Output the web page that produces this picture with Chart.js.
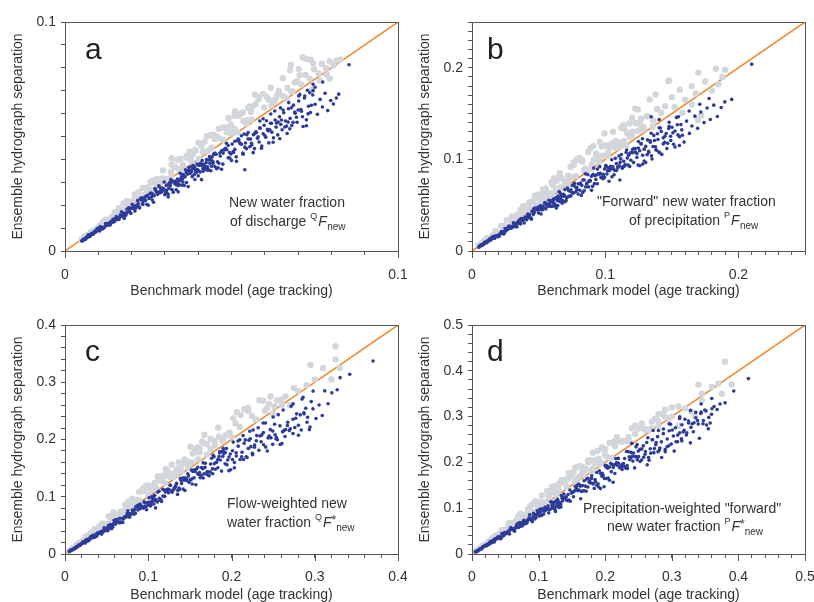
<!DOCTYPE html>
<html><head><meta charset="utf-8">
<script src="https://cdn.jsdelivr.net/npm/chart.js@4.4.1/dist/chart.umd.min.js"></script>
<style>
html,body{margin:0;padding:0;background:#fff;}
#wrap{position:relative;width:814px;height:602px;overflow:hidden;background:#fff;}
canvas{position:absolute;display:block;}
</style></head><body>
<div id="wrap">
<canvas id="ca" width="407" height="300" style="left:0;top:0;width:407px;height:300px"></canvas>
<canvas id="cb" width="407" height="300" style="left:407px;top:0;width:407px;height:300px"></canvas>
<canvas id="cc" width="407" height="302" style="left:0;top:300px;width:407px;height:302px"></canvas>
<canvas id="cd" width="407" height="302" style="left:407px;top:300px;width:407px;height:302px"></canvas>
</div>
<script>
// ---------- DATA ----------
// Panel a: New water fraction of discharge
const aMax = 0.1;
const aTickLabels = ['0', '0.1'];
const aBlue = [
[0.005,0.00435],[0.0054,0.00448],[0.0058,0.00516],[0.0062,0.00515],[0.0066,0.00601],[0.007,0.00707],[0.0074,0.00629],[0.0078,0.00725],[0.0082,0.00746],[0.0086,0.00748],
[0.009,0.00819],[0.0094,0.00921],[0.0098,0.0099],[0.0102,0.00969],[0.0106,0.01071],[0.011,0.00957],[0.0114,0.00969],[0.0118,0.01027],[0.0122,0.01196],[0.0126,0.01121],
[0.013,0.01209],[0.0134,0.01139],[0.0138,0.01283],[0.0142,0.01264],[0.0146,0.0127],[0.015,0.01305],[0.0154,0.01509],[0.0158,0.01375],[0.0162,0.01377],[0.0166,0.01577],
[0.017,0.01717],[0.0174,0.01583],[0.0178,0.01424],[0.0182,0.01547],[0.0186,0.01823],[0.019,0.01862],[0.0194,0.01727],[0.0198,0.01643],[0.0202,0.0204],[0.0206,0.01957],
[0.021,0.01743],[0.0214,0.0199],[0.0218,0.02202],[0.0222,0.01931],[0.0226,0.02283],[0.023,0.02323],[0.0234,0.02036],[0.0238,0.02261],[0.0242,0.02202],[0.0246,0.02042],
[0.025,0.02],[0.0254,0.02311],[0.0258,0.02528],[0.0262,0.02227],[0.0266,0.02128],[0.027,0.02727],[0.0274,0.02603],[0.0278,0.02474],[0.0282,0.02848],[0.0286,0.02545],
[0.029,0.02581],[0.0294,0.02675],[0.0298,0.0301],[0.0302,0.02567],[0.0306,0.02662],[0.031,0.0248],[0.0314,0.02983],[0.0318,0.03116],[0.0322,0.02673],[0.0326,0.03032],
[0.033,0.02937],[0.0334,0.02672],[0.0338,0.03143],[0.0342,0.02907],[0.0346,0.03391],[0.035,0.03255],[0.0354,0.03009],[0.0358,0.02864],[0.0362,0.03548],[0.0366,0.03477],
[0.037,0.03515],[0.0374,0.03478],[0.0378,0.03515],[0.0382,0.03247],[0.0386,0.0359],[0.039,0.0312],[0.0394,0.03428],[0.0398,0.03542],[0.0402,0.03739],[0.0406,0.03451],
[0.041,0.03731],[0.0414,0.03602],[0.0418,0.0372],[0.0422,0.03587],[0.0426,0.03536],[0.043,0.03569],[0.0434,0.04123],[0.0438,0.03504],[0.0442,0.04111],[0.0446,0.04237],
[0.045,0.04275],[0.0454,0.04222],[0.0458,0.03893],[0.0462,0.03835],[0.0466,0.04147],[0.047,0.04371],[0.0474,0.03792],[0.0478,0.04445],[0.0482,0.04483],[0.0486,0.04423],
[0.049,0.04067],[0.0494,0.04298],[0.0498,0.04233],[0.0502,0.04669],[0.0506,0.04301],[0.051,0.04437],[0.0514,0.04112],[0.0518,0.04817],[0.0522,0.04855],[0.0526,0.04681],
[0.053,0.05035],[0.0534,0.04272],[0.0538,0.05111],[0.0542,0.04715],[0.0546,0.05078],[0.055,0.04895],
[0.0052,0.00458],[0.0056,0.00526],[0.006,0.00516],[0.0064,0.00614],[0.0068,0.00598],[0.0072,0.00691],[0.0076,0.00654],[0.008,0.00768],[0.0084,0.00739],[0.0088,0.00845],
[0.0092,0.00828],[0.0096,0.00874],[0.01,0.0098],[0.0104,0.00874],[0.0108,0.00972],[0.0112,0.01019],[0.0116,0.01021],[0.012,0.01068],[0.0124,0.01128],[0.0128,0.01139],
[0.0132,0.01214],[0.0136,0.01142],[0.014,0.01232],[0.0144,0.01382],[0.0148,0.01391],[0.0152,0.01368],[0.0156,0.01466],[0.016,0.01376],[0.0164,0.0146],[0.0168,0.01529],
[0.0172,0.01514],[0.0176,0.01619],[0.018,0.01656],[0.0184,0.01619],[0.0188,0.01692],[0.0192,0.01882],[0.0196,0.01842],[0.02,0.0188],[0.0204,0.01856],[0.0208,0.01955],
[0.0212,0.01866],[0.0216,0.01944],[0.022,0.02068],[0.0224,0.01882],[0.0228,0.02234],[0.0232,0.02065],[0.0236,0.02171],[0.024,0.02352],[0.0244,0.02391],[0.0248,0.0243],
[0.0252,0.02293],[0.0256,0.02509],[0.026,0.02366],[0.0264,0.02482],[0.0268,0.02412],[0.0272,0.02666],[0.0276,0.02539],[0.028,0.02576],[0.0284,0.02783],[0.0288,0.0265],
[0.0292,0.02745],[0.0296,0.02723],[0.03,0.0264],[0.0304,0.02858],[0.0308,0.02895],[0.0312,0.02746],[0.0316,0.02844],[0.032,0.02688],[0.0324,0.03046],[0.0328,0.03018],
[0.0332,0.03054],[0.0336,0.0299],[0.034,0.02856],[0.0344,0.03062],[0.0348,0.03167],[0.0352,0.03133],[0.0356,0.0324],[0.036,0.0324],[0.0364,0.03422],[0.0368,0.03349],
[0.0372,0.03646],[0.0376,0.03384],[0.038,0.03458],[0.0384,0.0361],[0.0388,0.03337],[0.0392,0.03489],[0.0396,0.03802],[0.04,0.0352],[0.0404,0.03474],[0.0408,0.03835],
[0.0412,0.03955],[0.0416,0.03786],[0.042,0.03696],[0.0424,0.03858],[0.0428,0.03681],[0.0432,0.03974],[0.0436,0.04011],[0.044,0.0396],[0.0444,0.03907],[0.0448,0.04211],
[0.0557,0.0489],[0.0561,0.0463],[0.0566,0.0508],[0.0569,0.0447],[0.0573,0.0521],[0.0578,0.0492],[0.0583,0.0476],[0.0586,0.0536],[0.0591,0.0458],[0.0595,0.0512],
[0.0598,0.0549],[0.0603,0.0497],[0.0608,0.0531],[0.0612,0.0472],[0.0617,0.0558],[0.0621,0.0519],[0.0626,0.0494],[0.0631,0.0572],[0.0634,0.0541],[0.0639,0.0507],
[0.0644,0.0586],[0.0648,0.0553],[0.0652,0.0529],[0.0657,0.0604],[0.0662,0.0568],[0.0667,0.0513],[0.0671,0.0621],[0.0676,0.0579],[0.0681,0.0548],[0.0686,0.0637],
[0.0691,0.0601],[0.0697,0.0562],[0.0702,0.0655],[0.0708,0.0618],[0.0713,0.0586],[0.0719,0.0668],[0.0725,0.0547],[0.0731,0.0632],[0.0737,0.0605],[0.0744,0.0681],
[0.0751,0.0641],[0.0758,0.0597],[0.0766,0.0662],[0.0773,0.0629],[0.0781,0.0689],[0.0789,0.0613],[0.0798,0.0657],[0.0806,0.0642],[0.0815,0.0668],[0.0822,0.0685],
[0.0853,0.0813],[0.054,0.0355],
[0.0585,0.0568],[0.0618,0.0598],[0.0647,0.0625],[0.0672,0.0648],[0.0702,0.0677],[0.0728,0.0702],[0.0751,0.0715],[0.0774,0.0738],[0.0745,0.0728]
];
const aBlueMid = [
[0.03,0.0246],[0.0305,0.02562],[0.031,0.02356],[0.0315,0.02898],[0.032,0.03008],[0.0325,0.02568],[0.033,0.0297],[0.0335,0.02881],[0.034,0.02584],[0.0345,0.03105],
[0.035,0.0287],[0.0355,0.03337],[0.036,0.0324],[0.0365,0.02993],[0.037,0.02812],[0.0375,0.03525],[0.038,0.03686],[0.0385,0.03735],[0.039,0.03666],[0.0395,0.03555],
[0.04,0.0328],[0.0405,0.03807],[0.041,0.03116],[0.0415,0.03486],[0.042,0.03612],[0.0425,0.03995],[0.043,0.03526],[0.0435,0.03828],[0.044,0.03696],[0.0445,0.03827],
[0.045,0.0369],[0.0455,0.03595],[0.046,0.03634],[0.0465,0.04278],[0.047,0.03572],[0.0475,0.04275],[0.048,0.04416],[0.0485,0.04705],[0.049,0.04606],[0.0495,0.04059],
[0.05,0.0395],[0.0505,0.04343],[0.051,0.04794],[0.0515,0.03914],[0.052,0.04888],[0.0525,0.04725],[0.053,0.04664],[0.0535,0.04227],[0.054,0.04536],[0.0545,0.04469],
[0.055,0.0517],[0.0555,0.04551],[0.056,0.04704],[0.0565,0.04294],[0.057,0.0513],[0.0575,0.05175],[0.058,0.04988],[0.0585,0.05382],[0.059,0.04484],[0.0595,0.05772],
[0.06,0.0504],[0.0605,0.05687],[0.061,0.05246],[0.0615,0.05289],[0.062,0.0558],[0.0625,0.0475],[0.063,0.06111],[0.0635,0.05588],[0.064,0.05632],[0.0645,0.04902],
[0.065,0.0572],[0.0655,0.06157],[0.066,0.05412],[0.0665,0.05453],[0.067,0.05628],[0.0675,0.05333],[0.068,0.06256],[0.0685,0.05617],[0.069,0.06072],[0.0695,0.05838],
[0.07,0.0616],[0.0705,0.06839],[0.071,0.06106],[0.0715,0.05434],[0.072,0.06768],[0.0725,0.05728],[0.073,0.05986],[0.0735,0.06909],[0.074,0.06364],[0.0745,0.07003]
];
const aGrey = [
[0.005,0.0051],[0.0059,0.00637],[0.0068,0.00694],[0.0077,0.00832],[0.0086,0.00894],[0.0095,0.00969],[0.0104,0.01102],[0.0113,0.01243],[0.0122,0.01366],[0.0131,0.01362],
[0.014,0.01484],[0.0149,0.01699],[0.0158,0.01675],[0.0167,0.0167],[0.0176,0.02077],[0.0185,0.02035],[0.0194,0.0194],[0.0203,0.02192],[0.0212,0.02459],[0.0221,0.02564],
[0.023,0.023],[0.0239,0.02438],[0.0248,0.02778],[0.0257,0.02981],[0.0266,0.03086],[0.0275,0.03135],[0.0284,0.02954],[0.0293,0.03164],[0.0302,0.03141],[0.0311,0.0311],
[0.032,0.03776],[0.0329,0.03685],[0.0338,0.03988],[0.0347,0.04025],[0.0356,0.0356],[0.0365,0.04161],[0.0374,0.04338],[0.0383,0.04213],[0.0392,0.0439],[0.0401,0.04732],
[0.041,0.04592],[0.0419,0.04777],[0.0428,0.04366],[0.0437,0.05069],[0.0446,0.05084],[0.0455,0.05005],[0.0464,0.04918],[0.0473,0.05392],[0.0482,0.05398],[0.0491,0.05794],
[0.05,0.054],[0.0509,0.05904],[0.0518,0.0518],[0.0527,0.06008],[0.0536,0.05682],[0.0545,0.05559],[0.0554,0.06316],[0.0563,0.06306],[0.0572,0.06406],[0.0581,0.06623],
[0.0598,0.0627],[0.0612,0.0661],[0.0627,0.0652],[0.0641,0.0688],[0.0655,0.0676],[0.0668,0.0712],[0.0676,0.079],[0.0683,0.0697],[0.0697,0.0741],[0.071,0.0727],
[0.0722,0.0769],[0.0735,0.0752],[0.0745,0.082],[0.0748,0.0794],[0.0762,0.0775],[0.0771,0.0818],[0.0784,0.0798],[0.0795,0.0829],[0.0806,0.0811],[0.0816,0.0832],
[0.0826,0.0836],[0.0786,0.0771],[0.0765,0.0744],[0.0795,0.0752],[0.051,0.061],[0.055,0.0625],[0.0635,0.0673],[0.032,0.0405],[0.0705,0.0768],[0.0742,0.0705],
[0.008,0.0082],[0.014,0.0143],[0.02,0.0205],[0.026,0.0266],[0.032,0.0328],[0.038,0.039],[0.044,0.0451],[0.05,0.0513],[0.056,0.0574],[0.062,0.0636],[0.068,0.0697],
[0.015,0.01566],[0.0162,0.01869],[0.0174,0.01778],[0.0186,0.02187],[0.0198,0.02067],[0.021,0.0247],[0.0222,0.02269],[0.0234,0.02752],[0.0246,0.02568],[0.0258,0.03034],
[0.027,0.02938],[0.0282,0.0313],[0.0294,0.03522],[0.0306,0.0306],[0.0318,0.0346],[0.033,0.03663],[0.0342,0.03571],[0.0354,0.03774],[0.0366,0.04063],[0.0378,0.0403],
[0.039,0.04415],[0.0402,0.0402],[0.0414,0.04322],[0.0426,0.0501],[0.0438,0.05055],[0.045,0.04896],[0.0462,0.05331],[0.0474,0.04844],[0.0486,0.05181],[0.0498,0.05528],
[0.051,0.05324],[0.0522,0.05909],[0.0534,0.06045],[0.0546,0.057],[0.0558,0.06071],[0.057,0.06829],[0.0582,0.06716],[0.0594,0.06855],[0.0606,0.06727],[0.0618,0.07132],
[0.063,0.06577],[0.0642,0.06985],[0.0654,0.07547],[0.0666,0.0666],[0.0678,0.08122],[0.069,0.07355],[0.0702,0.07947],[0.0714,0.0845],[0.0726,0.0838],[0.0738,0.0835]
];

// Panel b: "Forward" new water fraction of precipitation
const bMax = 0.25;
const bTickLabels = ['0', '0.1', '0.2'];
const bBlue = [
[0.005,0.00415],[0.0059,0.00566],[0.0068,0.00653],[0.0077,0.0067],[0.0086,0.00697],[0.0095,0.00941],[0.0104,0.00967],[0.0113,0.00915],[0.0122,0.0111],[0.0131,0.01297],
[0.014,0.0119],[0.0149,0.01475],[0.0158,0.01564],[0.0167,0.0142],[0.0176,0.01637],[0.0185,0.01647],[0.0194,0.01571],[0.0203,0.01583],[0.0212,0.01887],[0.0221,0.02122],
[0.023,0.01909],[0.0239,0.01864],[0.0248,0.02455],[0.0257,0.0239],[0.0266,0.02314],[0.0275,0.02723],[0.0284,0.02471],[0.0293,0.02549],[0.0302,0.02688],[0.0311,0.03079],
[0.032,0.02656],[0.0329,0.02797],[0.0338,0.02636],[0.0347,0.03227],[0.0356,0.03418],[0.0365,0.02957],[0.0374,0.03403],[0.0383,0.03332],[0.0392,0.03058],[0.0401,0.03649],
[0.041,0.03403],[0.0419,0.04022],[0.0428,0.03895],[0.0437,0.03627],[0.0446,0.03479],[0.0455,0.04368],[0.0464,0.04594],[0.0473,0.04683],[0.0482,0.04627],[0.0491,0.04468],
[0.05,0.0415],[0.0509,0.04886],[0.0518,0.0404],[0.0527,0.0448],[0.0536,0.04663],[0.0545,0.05232],[0.0554,0.04598],[0.0563,0.05011],[0.0572,0.04862],[0.0581,0.05055],
[0.059,0.04897],[0.0599,0.04852],[0.0608,0.04925],[0.0617,0.05738],[0.0626,0.04883],[0.0635,0.05779],[0.0644,0.05989],[0.0653,0.06465],[0.0662,0.06355],[0.0671,0.05569],
[0.068,0.05508],[0.0689,0.05994],[0.0698,0.06701],[0.0707,0.05515],[0.0716,0.06874],[0.0725,0.06598],[0.0734,0.06533],[0.0743,0.06018],[0.0752,0.06392],[0.0761,0.06316],
[0.077,0.07392],[0.0779,0.06466],[0.0788,0.06698],[0.0797,0.06217],[0.0806,0.07335],[0.0815,0.07417],[0.0824,0.07169],[0.0833,0.07747],[0.0842,0.06568],[0.0851,0.08425],
[0.086,0.0731],[0.0869,0.08342],[0.0878,0.07639],[0.0887,0.07717],[0.0896,0.08154],[0.0905,0.07059],[0.0914,0.09049],[0.0923,0.08215],[0.0932,0.08295],[0.0941,0.0734],
[0.095,0.08455],[0.0959,0.09206],[0.0968,0.08034],[0.0977,0.08109],[0.0986,0.08381],[0.0995,0.0806],[0.1004,0.09337],[0.1013,0.08408],[0.1022,0.09096],[0.1031,0.08764],
[0.104,0.09256],[0.1049,0.09966],[0.1058,0.09205],[0.1067,0.08323],[0.1076,0.10114],[0.1085,0.08789],[0.1094,0.0908],[0.1103,0.10368],[0.1112,0.09674],[0.1121,0.10537],
[0.113,0.09153],[0.1139,0.09226],[0.1148,0.09299],[0.1157,0.1076],[0.1166,0.10144],[0.1175,0.10458],[0.1184,0.09235],[0.1193,0.09902],
[0.0055,0.00473],[0.0064,0.00589],[0.0073,0.00613],[0.0082,0.00771],[0.0091,0.00783],[0.01,0.0094],[0.0109,0.00916],[0.0118,0.01109],[0.0127,0.01092],[0.0136,0.01278],
[0.0145,0.01276],[0.0154,0.01371],[0.0163,0.01565],[0.0172,0.0141],[0.0181,0.01593],[0.019,0.01691],[0.0199,0.01711],[0.0208,0.0181],[0.0217,0.01931],[0.0226,0.01966],
[0.0235,0.02115],[0.0244,0.02001],[0.0253,0.02176],[0.0262,0.02463],[0.0271,0.02493],[0.028,0.02464],[0.0289,0.02659],[0.0298,0.02503],[0.0307,0.02671],[0.0316,0.02812],
[0.0325,0.02795],[0.0334,0.03006],[0.0343,0.03087],[0.0352,0.03027],[0.0361,0.03177],[0.037,0.03552],[0.0379,0.03487],[0.0388,0.0357],[0.0397,0.03533],[0.0406,0.03735],
[0.0415,0.03569],[0.0424,0.03731],[0.0433,0.03984],[0.0442,0.03624],[0.0451,0.0433],[0.046,0.04002],[0.0469,0.04221],[0.0478,0.04589],[0.0487,0.04675],[0.0496,0.04762],
[0.0505,0.04495],[0.0514,0.04934],[0.0523,0.04655],[0.0532,0.04894],[0.0541,0.04761],[0.055,0.0528],[0.0559,0.05031],[0.0568,0.05112],[0.0577,0.05539],[0.0586,0.05274],
[0.0595,0.05474],[0.0604,0.05436],[0.0613,0.05272],[0.0622,0.05722],[0.0631,0.05805],[0.064,0.05504],[0.0649,0.05711],[0.0658,0.05396],[0.0667,0.06136],[0.0676,0.06084],
[0.0685,0.06165],[0.0694,0.06038],
[0.1205,0.1072],[0.1213,0.0965],[0.1226,0.1118],[0.1238,0.1022],[0.1247,0.0938],[0.1259,0.1095],[0.1268,0.1171],[0.1281,0.1046],[0.1293,0.0982],[0.1304,0.1142],
[0.1318,0.1213],[0.1327,0.1075],[0.1339,0.1188],[0.1352,0.1004],[0.1365,0.1262],[0.1377,0.1138],[0.1385,0.11],[0.1396,0.1217],[0.1409,0.1072],[0.1421,0.1305],
[0.1436,0.1169],[0.1448,0.1252],[0.1463,0.1118],[0.1477,0.1338],[0.1492,0.1206],[0.1508,0.1291],[0.1524,0.1135],[0.1541,0.1379],[0.1558,0.1247],[0.1575,0.1322],
[0.1592,0.1189],[0.1611,0.1418],[0.1632,0.1284],[0.1651,0.1365],[0.1673,0.1472],[0.1694,0.1339],[0.1718,0.1518],[0.1742,0.1402],[0.1765,0.1561],[0.1789,0.1435],
[0.1815,0.1592],[0.1842,0.1468],[0.1871,0.1566],[0.1898,0.1628],[0.195,0.1655],[0.21,0.204],[0.111,0.0775],
[0.128,0.1225],[0.1345,0.1285],[0.1405,0.1345],[0.148,0.1405],[0.155,0.1465],[0.163,0.1528],[0.171,0.1602],[0.178,0.1665],[0.1345,0.1465],[0.1405,0.1435],[0.125,0.1195]
];
const bBlueMid = [
[0.06,0.0552],[0.0611,0.05621],[0.0622,0.051],[0.0633,0.04684],[0.0644,0.04959],[0.0655,0.05633],[0.0666,0.05861],[0.0677,0.05213],[0.0688,0.06192],[0.0699,0.05382],
[0.071,0.05822],[0.0721,0.05912],[0.0732,0.06002],[0.0743,0.06687],[0.0754,0.07163],[0.0765,0.07268],[0.0776,0.06984],[0.0787,0.06926],[0.0798,0.07342],[0.0809,0.06634],
[0.082,0.06068],[0.0831,0.06399],[0.0842,0.07746],[0.0853,0.06995],[0.0864,0.0743],[0.0875,0.07],[0.0886,0.0762],[0.0897,0.06638],[0.0908,0.08354],[0.0919,0.07352],
[0.093,0.07812],[0.0941,0.0894],[0.0952,0.08378],[0.0963,0.08474],[0.0974,0.07987],[0.0985,0.0788],[0.0996,0.08964],[0.1007,0.09264],[0.1018,0.08755],[0.1029,0.07615],
[0.104,0.08944],[0.1051,0.08093],[0.1062,0.08921],[0.1073,0.08799],[0.1084,0.09539],[0.1095,0.09198],[0.1106,0.0929],[0.1117,0.10053],[0.1128,0.09024],[0.1139,0.09795],
[0.115,0.0943],[0.1161,0.1103],[0.1172,0.09376],[0.1183,0.10647],[0.1194,0.10746],[0.1205,0.11086],[0.1216,0.11187],[0.1227,0.10798],[0.1238,0.10647],[0.1249,0.11241],
[0.126,0.09324],[0.1271,0.11693],[0.1282,0.09487],[0.1293,0.1112],[0.1304,0.0965],[0.1315,0.1052],[0.1326,0.10873],[0.1337,0.12033],[0.1348,0.1038],[0.1359,0.11416],
[0.137,0.12056],[0.1381,0.11048],[0.1392,0.12806],[0.1403,0.10803],[0.1414,0.13433],[0.1425,0.10545],[0.1436,0.1235],[0.1447,0.11865],[0.1458,0.1283],[0.1469,0.11752],
[0.148,0.13616],[0.1491,0.12524],[0.1502,0.13518],[0.1513,0.1165],[0.1524,0.13106],[0.1535,0.14583],[0.1546,0.12677],[0.1557,0.11522],[0.1568,0.13798],[0.1579,0.12632]
];
const bGrey = [
[0.005,0.00615],[0.0071,0.00852],[0.0092,0.01104],[0.0113,0.0139],[0.0134,0.01407],[0.0155,0.01721],[0.0176,0.02165],[0.0197,0.02009],[0.0218,0.02747],[0.0239,0.02725],
[0.026,0.03354],[0.0281,0.03372],[0.0302,0.03715],[0.0323,0.03585],[0.0344,0.04025],[0.0365,0.0449],[0.0386,0.04864],[0.0407,0.04274],[0.0428,0.05264],[0.0449,0.05388],
[0.047,0.06063],[0.0491,0.05892],[0.0512,0.0599],[0.0533,0.06716],[0.0554,0.06814],[0.0575,0.05865],[0.0596,0.0751],[0.0617,0.07959],[0.0638,0.07656],[0.0659,0.08501],
[0.068,0.06936],[0.0701,0.07571],[0.0722,0.08231],[0.0743,0.08024],[0.0764,0.09397],[0.0785,0.09891],[0.0806,0.10156],[0.0827,0.09924],[0.0848,0.08904],[0.0869,0.08864],
[0.089,0.11214],[0.0911,0.11479],[0.0932,0.10625],[0.0953,0.09721],[0.0974,0.11396],[0.0995,0.12836],[0.1016,0.10363],[0.1037,0.11511],[0.1058,0.13013],[0.1079,0.11977],
[0.11,0.1188],[0.1121,0.13452],[0.1142,0.13361],[0.1163,0.12909],[0.1184,0.12432],[0.1205,0.13014],[0.1226,0.13976],[0.1247,0.13094],[0.1268,0.14455],[0.1289,0.13535],
[0.132,0.147],[0.136,0.1425],[0.142,0.151],[0.145,0.158],[0.148,0.186],[0.1475,0.1856],[0.15,0.168],[0.152,0.157],[0.156,0.176],[0.16,0.165],
[0.165,0.18],[0.168,0.172],[0.17,0.195],[0.1695,0.143],[0.175,0.185],[0.18,0.175],[0.183,0.199],[0.188,0.19],[0.19,0.198],[0.185,0.182],
[0.165,0.16],[0.172,0.148],[0.158,0.151],[0.139,0.155],[0.126,0.14],
[0.006,0.0062],[0.012,0.0125],[0.018,0.0188],[0.024,0.025],[0.03,0.0315],[0.036,0.0378],[0.042,0.0442],[0.048,0.0505],[0.054,0.0568],[0.06,0.063],
[0.066,0.0695],[0.072,0.0758],[0.078,0.082],[0.084,0.088],[0.09,0.0945],[0.096,0.101],[0.102,0.107],[0.108,0.1135],[0.114,0.12],[0.12,0.126],
[0.03,0.0381],[0.0322,0.03606],[0.0344,0.03853],[0.0366,0.04209],[0.0388,0.04928],[0.041,0.04346],[0.0432,0.04709],[0.0454,0.0454],[0.0476,0.0576],[0.0498,0.06175],
[0.052,0.05356],[0.0542,0.06396],[0.0564,0.06317],[0.0586,0.0586],[0.0608,0.07174],[0.063,0.06678],[0.0652,0.08085],[0.0674,0.07953],[0.0696,0.07378],[0.0718,0.0718],
[0.074,0.09176],[0.0762,0.09677],[0.0784,0.09957],[0.0806,0.09994],[0.0828,0.0977],[0.085,0.0901],[0.0872,0.10813],[0.0894,0.0894],[0.0916,0.09984],[0.0938,0.10506],
[0.096,0.11904],[0.0982,0.10409],[0.1004,0.11546],[0.1026,0.11183],[0.1048,0.11738],[0.107,0.11342],[0.1092,0.11248],[0.1114,0.11474],[0.1136,0.13746],[0.1158,0.1158],
[0.118,0.13924],[0.1202,0.14544],[0.1224,0.15545],[0.1246,0.1545],[0.1268,0.13441],[0.129,0.13287],[0.1312,0.14694],[0.1334,0.16542],[0.1356,0.1356],[0.1378,0.17087]
];

// Panel c: Flow-weighted new water fraction
const cMax = 0.4;
const cTickLabels = ['0', '0.1', '0.2', '0.3', '0.4'];
const cBlue = [
[0.005,0.0045],[0.0065,0.0063],[0.008,0.00672],[0.0095,0.00798],[0.011,0.00946],[0.0125,0.01025],[0.014,0.01316],[0.0155,0.01302],[0.017,0.0153],[0.0185,0.01591],
[0.02,0.018],[0.0215,0.0215],[0.023,0.02024],[0.0245,0.01936],[0.026,0.02522],[0.0275,0.02255],[0.029,0.02436],[0.0305,0.02959],[0.032,0.02816],[0.0335,0.0325],
[0.035,0.0287],[0.0365,0.02993],[0.038,0.03116],[0.0395,0.03713],[0.041,0.03608],[0.0425,0.03825],[0.044,0.03476],[0.0455,0.03822],[0.047,0.04559],[0.0485,0.04268],
[0.05,0.041],[0.0515,0.04069],[0.053,0.04452],[0.0545,0.05123],[0.056,0.04424],[0.0575,0.04715],[0.059,0.059],[0.0605,0.05203],[0.062,0.06014],[0.0635,0.05715],
[0.065,0.0546],[0.0665,0.05453],[0.068,0.05576],[0.0695,0.05491],[0.071,0.0639],[0.0725,0.06525],[0.074,0.0666],[0.0755,0.0755],[0.077,0.07084],[0.0785,0.06908],
[0.08,0.0704],[0.0815,0.07498],[0.083,0.06972],[0.0845,0.07098],[0.086,0.08256],[0.0875,0.077],[0.089,0.08633],[0.0905,0.08688],[0.092,0.0828],[0.0935,0.08228],
[0.095,0.0912],[0.0965,0.08299],[0.098,0.07742],[0.0995,0.08557],[0.101,0.09797],[0.1025,0.08405],[0.104,0.09984],[0.1055,0.09706],[0.107,0.09416],[0.1085,0.09548],
[0.11,0.0924],[0.1115,0.10816],[0.113,0.10961],[0.1145,0.09389],[0.116,0.09164],[0.1175,0.1128],[0.119,0.11186],[0.1205,0.10845],[0.122,0.11224],[0.1235,0.11362],
[0.125,0.1125],[0.1265,0.12018],[0.128,0.11008],[0.1295,0.11137],[0.131,0.11528],[0.1325,0.1166],[0.134,0.12328],[0.1355,0.11111],[0.137,0.11508],[0.1385,0.13158],
[0.14,0.1232],[0.1415,0.13301],[0.143,0.1287],[0.1445,0.13294],[0.146,0.12848],[0.1475,0.14013],[0.149,0.12516],[0.1505,0.12943],[0.152,0.13072],[0.1535,0.14429],
[0.155,0.14725],[0.1565,0.14398],[0.158,0.14852],[0.1595,0.15153],[0.161,0.13846],[0.1625,0.13325],[0.164,0.15088],[0.1655,0.14895],[0.167,0.14028],[0.1685,0.15839],
[0.17,0.1394],[0.1715,0.14406],[0.173,0.13667],[0.1745,0.14309],[0.176,0.1672],[0.1775,0.14023],[0.179,0.17005],[0.1805,0.14801],[0.182,0.16016],[0.1835,0.16515],
[0.185,0.1702],[0.1865,0.16412],[0.188,0.1786],[0.1895,0.17055],[0.191,0.17572],[0.1925,0.1771],[0.194,0.1843],[0.1955,0.16422],[0.197,0.16942],[0.1985,0.17468],
[0.0058,0.00493],[0.0073,0.00679],[0.0088,0.00774],[0.0103,0.00896],[0.0118,0.00979],[0.0133,0.01197],[0.0148,0.01228],[0.0163,0.01549],[0.0178,0.01477],[0.0193,0.01795],
[0.0208,0.01872],[0.0223,0.02029],[0.0238,0.02261],[0.0253,0.02404],[0.0268,0.02492],[0.0283,0.02632],[0.0298,0.02593],[0.0313,0.03036],[0.0328,0.02886],[0.0343,0.03087],
[0.0358,0.03115],[0.0373,0.03469],[0.0388,0.03453],[0.0403,0.03587],[0.0418,0.03804],[0.0433,0.0381],[0.0448,0.03987],[0.0463,0.03936],[0.0478,0.04302],[0.0493,0.04092],
[0.0508,0.04572],[0.0523,0.04969],[0.0538,0.05003],[0.0553,0.04811],[0.0568,0.04998],[0.0583,0.05305],[0.0598,0.05442],[0.0613,0.05946],[0.0628,0.05589],[0.0643,0.05594],
[0.0658,0.06251],[0.0673,0.05586],[0.0688,0.06192],[0.0703,0.06116],[0.0718,0.06462],[0.0733,0.0645],[0.0748,0.07106],[0.0763,0.06486],[0.0778,0.06457],[0.0793,0.06978],
[0.0808,0.07676],[0.0823,0.07489],[0.0838,0.07793],[0.0853,0.08274],[0.0868,0.0842],[0.0883,0.08212],[0.0898,0.07902],[0.0913,0.08034],[0.0928,0.08166],[0.0943,0.08016],
[0.0958,0.08909],[0.0973,0.08271],[0.0988,0.08991],[0.1003,0.09027],[0.1018,0.08653],[0.1033,0.08574],[0.1048,0.09222],[0.1063,0.10099],[0.1078,0.10241],[0.1093,0.09291],
[0.2012,0.1803],[0.2035,0.1598],[0.2058,0.1712],[0.2081,0.1884],[0.2103,0.1651],[0.2127,0.1776],[0.2152,0.1935],[0.2176,0.1697],[0.2201,0.1842],[0.2226,0.2012],
[0.2251,0.1758],[0.2277,0.1905],[0.2303,0.2068],[0.2329,0.1812],[0.2356,0.1962],[0.2383,0.2121],[0.2411,0.1867],[0.2439,0.2027],[0.2466,0.2172],[0.2495,0.1915],
[0.2524,0.2081],[0.2552,0.1995],[0.2582,0.2238],[0.2613,0.2134],[0.2643,0.2052],[0.2675,0.2302],[0.2706,0.2186],[0.2738,0.2105],[0.2771,0.2371],[0.2804,0.2249],
[0.2838,0.2165],[0.2872,0.2448],[0.2907,0.2302],[0.2943,0.2218],[0.2979,0.2535],[0.3015,0.2368],[0.3052,0.2602],[0.309,0.2418],[0.312,0.285],[0.316,0.2625],
[0.3205,0.2815],[0.327,0.287],[0.3305,0.308],[0.342,0.314],[0.37,0.337],[0.2535,0.2012],
[0.152,0.1465],[0.166,0.1592],[0.178,0.1725],[0.19,0.1848],[0.202,0.1955],[0.214,0.2068],[0.226,0.2165],[0.238,0.2288],[0.25,0.2392],[0.262,0.2515],
[0.274,0.2622],[0.286,0.2738],[0.298,0.2845],[0.186,0.1788],[0.222,0.2145]
];
const cBlueMid = [
[0.1,0.09],[0.1022,0.08994],[0.1044,0.09187],[0.1066,0.08741],[0.1088,0.08051],[0.111,0.09102],[0.1132,0.09735],[0.1154,0.09463],[0.1176,0.10114],[0.1198,0.10063],
[0.122,0.1098],[0.1242,0.10681],[0.1264,0.12008],[0.1286,0.10802],[0.1308,0.11249],[0.133,0.1197],[0.1352,0.1041],[0.1374,0.11267],[0.1396,0.12843],[0.1418,0.11344],
[0.144,0.11088],[0.1462,0.13158],[0.1484,0.13653],[0.1506,0.12952],[0.1528,0.12224],[0.155,0.1333],[0.1572,0.12104],[0.1594,0.14027],[0.1616,0.14221],[0.1638,0.13759],
[0.166,0.1328],[0.1682,0.15138],[0.1704,0.14314],[0.1726,0.13808],[0.1748,0.15732],[0.177,0.14868],[0.1792,0.1577],[0.1814,0.15963],[0.1836,0.15055],[0.1858,0.17651],
[0.188,0.14476],[0.1902,0.18069],[0.1924,0.15777],[0.1946,0.15568],[0.1968,0.14563],[0.199,0.14726],[0.2012,0.16498],[0.2034,0.15052],[0.2056,0.17682],[0.2078,0.19741],
[0.21,0.1995],[0.2122,0.16976],[0.2144,0.16509],[0.2166,0.19927],[0.2188,0.16848],[0.221,0.1989],[0.2232,0.18749],[0.2254,0.17356],[0.2276,0.18663],[0.2298,0.19763],
[0.232,0.2204],[0.2342,0.2061],[0.2364,0.20803],[0.2386,0.19088],[0.2408,0.22876],[0.243,0.17982],[0.2452,0.20597],[0.2474,0.20287],[0.2496,0.21466],[0.2518,0.22662],
[0.254,0.2032],[0.2562,0.24339],[0.2584,0.19122],[0.2606,0.19284],[0.2628,0.2155],[0.265,0.2173],[0.2672,0.22445],[0.2694,0.21552],[0.2716,0.25802],[0.2738,0.23547],
[0.276,0.2208],[0.2782,0.24482],[0.2804,0.2075],[0.2826,0.24304],[0.2848,0.27056],[0.287,0.24682],[0.2892,0.2545],[0.2914,0.23895],[0.2936,0.21726],[0.2958,0.26622]
];
const cGrey = [
[0.005,0.0056],[0.0078,0.00854],[0.0106,0.01081],[0.0134,0.01568],[0.0162,0.01814],[0.019,0.0208],[0.0218,0.02333],[0.0246,0.03063],[0.0274,0.03206],[0.0302,0.03533],
[0.033,0.03779],[0.0358,0.04368],[0.0386,0.04323],[0.0414,0.04844],[0.0442,0.05061],[0.047,0.05264],[0.0498,0.05204],[0.0526,0.06549],[0.0554,0.05651],[0.0582,0.07246],
[0.061,0.06375],[0.0638,0.06508],[0.0666,0.07126],[0.0694,0.07252],[0.0722,0.08628],[0.075,0.08025],[0.0778,0.08908],[0.0806,0.0943],[0.0834,0.08715],[0.0862,0.09439],
[0.089,0.10858],[0.0918,0.1097],[0.0946,0.11068],[0.0974,0.11883],[0.1002,0.11974],[0.103,0.11279],[0.1058,0.11585],[0.1086,0.1162],[0.1114,0.13591],[0.1142,0.1279],
[0.117,0.13689],[0.1198,0.13717],[0.1226,0.14651],[0.1254,0.14045],[0.1282,0.1564],[0.131,0.14017],[0.1338,0.13982],[0.1366,0.15982],[0.1394,0.15613],[0.1422,0.15926],
[0.145,0.15878],[0.1478,0.16184],[0.1506,0.1875],[0.1534,0.17564],[0.1562,0.18275],[0.159,0.18603],[0.1618,0.18526],[0.1646,0.1967],[0.1674,0.20841],[0.1702,0.1736],
[0.175,0.1835],[0.18,0.19],[0.185,0.205],[0.19,0.2],[0.2,0.205],[0.205,0.228],[0.21,0.222],[0.22,0.25],[0.23,0.235],[0.24,0.25],
[0.245,0.262],[0.25,0.245],[0.255,0.268],[0.26,0.27],[0.265,0.275],[0.27,0.26],[0.275,0.29],[0.28,0.285],[0.29,0.295],[0.295,0.33],
[0.3,0.305],[0.31,0.325],[0.32,0.305],[0.325,0.363],[0.325,0.34],[0.33,0.325],
[0.01,0.0103],[0.02,0.0206],[0.03,0.031],[0.04,0.0412],[0.05,0.0516],[0.06,0.062],[0.07,0.0723],[0.08,0.0826],[0.09,0.093],[0.1,0.1032],
[0.11,0.1136],[0.12,0.124],[0.13,0.1343],[0.14,0.1446],[0.16,0.1652],
[0.04,0.043],[0.0445,0.0534],[0.049,0.05023],[0.0535,0.06554],[0.058,0.0667],[0.0625,0.06875],[0.067,0.0737],[0.0715,0.07508],[0.076,0.0912],[0.0805,0.0966],
[0.085,0.08713],[0.0895,0.0895],[0.094,0.11515],[0.0985,0.11574],[0.103,0.11588],[0.1075,0.12363],[0.112,0.1288],[0.1165,0.13106],[0.121,0.14823],[0.1255,0.13491],
[0.13,0.13975],[0.1345,0.14795],[0.139,0.1529],[0.1435,0.16503],[0.148,0.1517],[0.1525,0.16013],[0.157,0.178],[0.1615,0.17765],[0.166,0.19505],[0.1705,0.19181],
[0.175,0.20125],[0.1795,0.19745],[0.184,0.2208],[0.1885,0.19793],[0.193,0.20748],[0.1975,0.21231],[0.202,0.23735],[0.2065,0.2478],[0.211,0.24265],[0.2155,0.25321],
[0.22,0.255],[0.2245,0.24134],[0.229,0.23473],[0.2335,0.26853],[0.238,0.26775],[0.2425,0.25463],[0.247,0.275],[0.2515,0.25779],[0.256,0.2688],[0.2605,0.2605]
];

// Panel d: Precipitation-weighted "forward" new water fraction
const dMax = 0.5;
const dTickLabels = ['0', '0.1', '0.2', '0.3', '0.4', '0.5'];
const dBlue = [
[0.005,0.0048],[0.0069,0.00573],[0.0088,0.00713],[0.0107,0.00931],[0.0126,0.0121],[0.0145,0.01131],[0.0164,0.01574],[0.0183,0.01665],[0.0202,0.01798],[0.0221,0.0179],
[0.024,0.0204],[0.0259,0.0215],[0.0278,0.02669],[0.0297,0.02465],[0.0316,0.02686],[0.0335,0.02613],[0.0354,0.03221],[0.0373,0.03394],[0.0392,0.0341],[0.0411,0.03822],
[0.043,0.03354],[0.0449,0.04445],[0.0468,0.03978],[0.0487,0.04675],[0.0506,0.04402],[0.0525,0.04568],[0.0544,0.0495],[0.0563,0.04391],[0.0582,0.05762],[0.0601,0.05349],
[0.062,0.05518],[0.0639,0.04984],[0.0658,0.05856],[0.0677,0.06499],[0.0696,0.05777],[0.0715,0.05935],[0.0734,0.06239],[0.0753,0.06099],[0.0772,0.0718],[0.0791,0.06565],
[0.081,0.07209],[0.0829,0.07047],[0.0848,0.07547],[0.0867,0.08583],[0.0886,0.07708],[0.0905,0.07059],[0.0924,0.0887],[0.0943,0.07638],[0.0962,0.07985],[0.0981,0.09418],
[0.1,0.087],[0.1019,0.09782],[0.1038,0.08408],[0.1057,0.08562],[0.1076,0.08716],[0.1095,0.10184],[0.1114,0.09692],[0.1133,0.10084],[0.1152,0.08986],[0.1171,0.09719],
[0.119,0.11424],[0.1209,0.10518],[0.1228,0.09947],[0.1247,0.09727],[0.1266,0.10508],[0.1285,0.1195],[0.1304,0.10171],[0.1323,0.10716],[0.1342,0.12749],[0.1361,0.11569],
[0.138,0.1311],[0.1399,0.12451],[0.1418,0.11769],[0.1437,0.1164],[0.1456,0.11794],[0.1475,0.11505],[0.1494,0.13297],[0.1513,0.13466],[0.1532,0.13635],[0.1551,0.14735],
[0.157,0.14287],[0.1589,0.13824],[0.1608,0.1399],[0.1627,0.14806],[0.1646,0.13662],[0.1665,0.1382],[0.1684,0.15998],[0.1703,0.14816],[0.1722,0.16359],[0.1741,0.1654],
[0.176,0.15664],[0.1779,0.15477],[0.1798,0.17081],[0.1817,0.15445],[0.1836,0.14321],[0.1855,0.15768],[0.1874,0.17803],[0.1893,0.15333],[0.1912,0.18164],[0.1931,0.17572],
[0.195,0.16965],[0.1969,0.1713],[0.1988,0.165],[0.2007,0.19067],[0.2026,0.19247],[0.2045,0.16565],[0.2064,0.16099],[0.2083,0.19789],[0.2102,0.19549],[0.2121,0.18877],
[0.214,0.19474],[0.2159,0.19647],[0.2178,0.19384],[0.2197,0.20872],[0.2216,0.18836],[0.2235,0.18998],[0.2254,0.1961],[0.2273,0.19775],[0.2292,0.20857],[0.2311,0.18719],
[0.233,0.19339],[0.2349,0.22316],[0.2368,0.20602],[0.2387,0.22199],[0.2406,0.21413],[0.2425,0.22068],[0.2444,0.21263],[0.2463,0.23399],[0.2482,0.20601],[0.2501,0.21259],
[0.006,0.00516],[0.0079,0.00679],[0.0098,0.00853],[0.0117,0.01053],[0.0136,0.01115],[0.0155,0.01395],[0.0174,0.01601],[0.0193,0.01853],[0.0212,0.0195],[0.0231,0.02125],
[0.025,0.022],[0.0269,0.02582],[0.0288,0.02765],[0.0307,0.02824],[0.0326,0.03064],[0.0345,0.03312],[0.0364,0.03276],[0.0383,0.03677],[0.0402,0.03618],[0.0421,0.03705],
[0.044,0.03608],[0.0459,0.04406],[0.0478,0.04015],[0.0497,0.04572],[0.0516,0.04489],[0.0535,0.04815],[0.0554,0.04986],[0.0573,0.05386],[0.0592,0.05446],[0.0611,0.05316],
[0.063,0.05292],[0.0649,0.05581],[0.0668,0.06146],[0.0687,0.06595],[0.0706,0.06778],[0.0725,0.06815],[0.0744,0.0625],[0.0763,0.06791],[0.0782,0.07351],[0.0801,0.06969],
[0.082,0.06724],[0.0839,0.07383],[0.0858,0.07894],[0.0877,0.07542],[0.0896,0.07347],[0.0915,0.08144],[0.0934,0.07846],[0.0953,0.08482],[0.0972,0.08748],[0.0991,0.0882],
[0.101,0.08282],[0.1029,0.09158],[0.1048,0.09851],[0.1067,0.09603],[0.1086,0.0934],[0.1105,0.09835],[0.1124,0.09779],[0.1143,0.10516],[0.1162,0.09761],[0.1181,0.11338],
[0.12,0.1068],[0.1219,0.10849],[0.1238,0.10152],[0.1257,0.11564],[0.1276,0.11101],[0.1295,0.11396],[0.1314,0.113],[0.1333,0.10931],[0.1352,0.12168],[0.1371,0.12065],
[0.2522,0.2284],[0.2547,0.2051],[0.2573,0.2362],[0.2598,0.2179],[0.2624,0.2433],[0.2651,0.2108],[0.2677,0.2297],[0.2704,0.2495],[0.2731,0.2213],[0.2759,0.2388],
[0.2787,0.2562],[0.2815,0.2271],[0.2844,0.2449],[0.2873,0.2628],[0.29,0.228],[0.2932,0.2512],[0.2962,0.2692],[0.2993,0.2402],[0.3024,0.2578],[0.3055,0.2755],
[0.3087,0.245],[0.3119,0.2645],[0.315,0.247],[0.3152,0.2821],[0.3185,0.2702],[0.3219,0.2598],[0.3253,0.2905],[0.3288,0.2765],[0.3324,0.2668],[0.336,0.2975],
[0.3397,0.2838],[0.3435,0.3068],[0.3474,0.2915],[0.3514,0.3125],[0.3555,0.2982],[0.3597,0.3052],[0.3635,0.322],[0.368,0.3155],[0.3725,0.3275],[0.38,0.33],
[0.393,0.356],[0.415,0.383],
[0.2,0.1935],[0.216,0.2085],[0.232,0.2238],[0.248,0.2392],[0.264,0.2538],[0.28,0.2695],[0.296,0.2842],[0.312,0.2998],[0.328,0.3135],[0.344,0.3275],
[0.36,0.3395],[0.24,0.2415],[0.272,0.2695]
];
const dBlueMid = [
[0.12,0.1008],[0.1227,0.11288],[0.1254,0.0928],[0.1281,0.11529],[0.1308,0.10726],[0.1335,0.1028],[0.1362,0.12258],[0.1389,0.12223],[0.1416,0.12461],[0.1443,0.12987],
[0.147,0.13965],[0.1497,0.13473],[0.1524,0.12497],[0.1551,0.13959],[0.1578,0.14991],[0.1605,0.15248],[0.1632,0.12077],[0.1659,0.14931],[0.1686,0.13825],[0.1713,0.13704],
[0.174,0.14616],[0.1767,0.15903],[0.1794,0.16505],[0.1821,0.15296],[0.1848,0.16262],[0.1875,0.15],[0.1902,0.14645],[0.1929,0.14275],[0.1956,0.17604],[0.1983,0.14674],
[0.201,0.16482],[0.2037,0.1874],[0.2064,0.18989],[0.2091,0.17983],[0.2118,0.15673],[0.2145,0.17589],[0.2172,0.19982],[0.2199,0.19791],[0.2226,0.19144],[0.2253,0.18475],
[0.228,0.19152],[0.2307,0.18917],[0.2334,0.18672],[0.2361,0.21249],[0.2388,0.21014],[0.2415,0.20286],[0.2442,0.18803],[0.2469,0.21233],[0.2496,0.22464],[0.2523,0.20184],
[0.255,0.2295],[0.2577,0.21131],[0.2604,0.22394],[0.2631,0.19469],[0.2658,0.20467],[0.2685,0.22017],[0.2712,0.2495],[0.2739,0.23008],[0.2766,0.24341],[0.2793,0.22344],
[0.282,0.23124],[0.2847,0.21068],[0.2874,0.27303],[0.2901,0.22338],[0.2928,0.23424],[0.2955,0.2364],[0.2982,0.28329],[0.3009,0.27081],[0.3036,0.22466],[0.3063,0.24504],
[0.309,0.25956],[0.3117,0.29612],[0.3144,0.25152],[0.3171,0.26636],[0.3198,0.29422],[0.3225,0.26445],[0.3252,0.28618],[0.3279,0.24265],[0.3306,0.28432],[0.3333,0.28664],
[0.336,0.30912],[0.3387,0.29128],[0.3414,0.25264],[0.3441,0.30969],[0.3468,0.28438],[0.3495,0.31455],[0.3522,0.28176],[0.3549,0.27327],[0.3576,0.28608],[0.3603,0.31706]
];
const dGrey = [
[0.005,0.00521],[0.0086,0.00953],[0.0122,0.01271],[0.0158,0.01751],[0.0194,0.02064],[0.023,0.02397],[0.0266,0.02889],[0.0302,0.03413],[0.0338,0.03894],[0.0374,0.03979],
[0.041,0.04453],[0.0446,0.05236],[0.0482,0.05235],[0.0518,0.05284],[0.0554,0.06748],[0.059,0.06667],[0.0626,0.06385],[0.0662,0.07335],[0.0698,0.08348],[0.0734,0.08779],
[0.077,0.07854],[0.0806,0.08399],[0.0842,0.097],[0.0878,0.10501],[0.0914,0.10931],[0.095,0.11153],[0.0986,0.10491],[0.1022,0.11324],[0.1058,0.11257],[0.1094,0.11159],
[0.113,0.13763],[0.1166,0.13432],[0.1202,0.1464],[0.1238,0.14806],[0.1274,0.12995],[0.131,0.15379],[0.1346,0.16098],[0.1382,0.15617],[0.1418,0.16335],[0.1454,0.1771],
[0.149,0.17165],[0.1526,0.17915],[0.1562,0.16276],[0.1598,0.19112],[0.1634,0.19183],[0.167,0.18871],[0.1706,0.18527],[0.1742,0.20451],[0.1778,0.20483],[0.1814,0.22095],
[0.185,0.20498],[0.1886,0.22557],[0.1922,0.19604],[0.1958,0.22987],[0.1994,0.21655],[0.203,0.21153],[0.2066,0.24255],[0.2102,0.24215],[0.2138,0.2463],[0.2174,0.25523],
[0.225,0.245],[0.235,0.255],[0.245,0.262],[0.255,0.275],[0.26,0.27],[0.27,0.275],[0.28,0.29],[0.29,0.3],[0.3,0.32],[0.31,0.322],
[0.32,0.318],[0.33,0.31],[0.335,0.3],[0.34,0.37],[0.345,0.35],[0.36,0.365],[0.37,0.372],[0.375,0.35],[0.38,0.42],[0.39,0.37],
[0.345,0.335],[0.31,0.28],[0.28,0.28],[0.3,0.3],
[0.012,0.0124],[0.025,0.0258],[0.038,0.0392],[0.051,0.0525],[0.064,0.066],[0.077,0.0793],[0.09,0.0927],[0.103,0.106],[0.116,0.1195],[0.129,0.1328],
[0.142,0.1462],[0.155,0.1596],[0.168,0.173],[0.181,0.1864],[0.194,0.1998],
[0.05,0.0512],[0.055,0.06292],[0.06,0.0672],[0.065,0.06812],[0.07,0.08176],[0.075,0.0768],[0.08,0.08384],[0.085,0.085],[0.09,0.09216],[0.095,0.11552],
[0.1,0.1],[0.105,0.12768],[0.11,0.11264],[0.115,0.12604],[0.12,0.1344],[0.125,0.143],[0.13,0.14248],[0.135,0.16092],[0.14,0.1568],[0.145,0.16588],
[0.15,0.1716],[0.155,0.18848],[0.16,0.16768],[0.165,0.17688],[0.17,0.18632],[0.175,0.2002],[0.18,0.18],[0.185,0.19832],[0.19,0.20824],[0.195,0.23244],
[0.2,0.2288],[0.205,0.20992],[0.21,0.21],[0.215,0.23564],[0.22,0.2464],[0.225,0.2466],[0.23,0.24656],[0.235,0.24628],[0.24,0.27456],[0.245,0.28028],
[0.25,0.274],[0.255,0.285],[0.26,0.27248],[0.265,0.27136],[0.27,0.28944],[0.275,0.2948],[0.28,0.305],[0.285,0.30552],[0.29,0.315],[0.295,0.295]
];

// ---------- STYLE ----------
const FONT = '"Liberation Sans", Arial, Helvetica, sans-serif';
const TXT = '#333333';
const AXC = '#555555';
const BLUE = '#2c3b99';
const GREY = '#d3d6da';
const ORANGE = '#f08a2a';

function fmt(v) { return String(+(+v).toFixed(3)); }

function annotPlugin(letter, letterPos, lines, tickLabels) {
  return {
    id: 'annot',
    afterDraw(chart) {
      const ctx = chart.ctx, ca = chart.chartArea;
      ctx.save();
      ctx.strokeStyle = AXC; ctx.lineWidth = 1;
      ctx.strokeRect(Math.round(ca.left) + 0.5, Math.round(ca.top) + 0.5, Math.round(ca.right - ca.left), Math.round(ca.bottom - ca.top));
      // longer tick marks at the labelled x values
      const xs = chart.scales.x;
      ctx.beginPath();
      for (const t of tickLabels) {
        const px = Math.round(xs.getPixelForValue(parseFloat(t))) + 0.5;
        ctx.moveTo(px, ca.bottom); ctx.lineTo(px, ca.bottom + 7);
      }
      ctx.stroke();
      ctx.fillStyle = '#222';
      ctx.textBaseline = 'alphabetic';
      ctx.textAlign = 'left';
      ctx.font = '30px ' + FONT;
      ctx.fillText(letter, letterPos[0], letterPos[1]);
      ctx.fillStyle = TXT;
      for (const ln of lines) {
        let x = ln.x;
        for (const r of ln.runs) {
          ctx.font = (r.italic ? 'italic ' : '') + (r.size || 14) + 'px ' + FONT;
          ctx.fillText(r.t, x, ln.y + (r.dy || 0));
          x += ctx.measureText(r.t).width + (r.gap || 0);
        }
      }
      ctx.restore();
    }
  };
}

function makePanel(id, blue, grey, max, step, tickLabels, H, padTop, xH, letter, letterPos, lines) {
  const toPts = arr => arr.map(p => ({x: p[0], y: p[1]}));
  const tickCb = v => { const s = fmt(v); return tickLabels.includes(s) ? s : ''; };
  const axis = (isX) => ({
    type: 'linear', min: 0, max: max,
    position: isX ? 'bottom' : 'left',
    border: {display: true, color: AXC, width: 1},
    grid: {display: true, drawOnChartArea: false, drawTicks: true, tickLength: 4, color: AXC, lineWidth: 1},
    ticks: {stepSize: step, autoSkip: false, maxRotation: 0, callback: tickCb, color: TXT,
            font: {family: FONT, size: 14}, padding: isX ? (H === 300 ? 12 : 11) : 5},
    title: {display: true, text: isX ? 'Benchmark model (age tracking)' : 'Ensemble hydrograph separation',
            color: TXT, font: {family: FONT, size: 14, lineHeight: isX ? (H === 300 ? 1.2 : 1.0) : 1.2},
            padding: isX ? {top: 0, bottom: 0} : {top: 10, bottom: 0}},
    afterFit: s => {
      if (isX) { s.height = xH; s.paddingLeft = 0; s.paddingRight = 0; }
      else { s.width = 65; s.paddingTop = 0; s.paddingBottom = 0; }
    }
  });
  new Chart(document.getElementById(id), {
    type: 'scatter',
    data: {datasets: [
      {data: toPts(blue), pointRadius: 1.8, pointBackgroundColor: BLUE, pointBorderWidth: 0, pointHoverRadius: 0},
      {data: toPts(grey), pointRadius: 3.2, pointBackgroundColor: GREY, pointBorderWidth: 0, pointHoverRadius: 0},
      {data: [{x: 0, y: 0}, {x: max, y: max}], showLine: true, borderColor: ORANGE, borderWidth: 1.5, pointRadius: 0, pointHoverRadius: 0}
    ]},
    options: {
      responsive: false, animation: false, devicePixelRatio: 1,
      layout: {autoPadding: false, padding: {left: 0, right: 9, top: padTop, bottom: 0}},
      plugins: {legend: {display: false}, tooltip: {enabled: false}},
      events: [],
      scales: {x: axis(true), y: axis(false)}
    },
    plugins: [annotPlugin(letter, letterPos, lines, tickLabels)]
  });
}

makePanel('ca', aBlue.concat(aBlueMid), aGrey, aMax, 0.01, aTickLabels, 300, 22, 49, 'a', [85, 59], [
  {x: 229, y: 207, runs: [{t: 'New water fraction'}]},
  {x: 230, y: 226, runs: [{t: 'of discharge '}, {t: 'Q', size: 9, dy: -7, gap: 1}, {t: 'F', italic: true, gap: 0.5}, {t: 'new', size: 10, dy: 4}]}
]);
makePanel('cb', bBlue.concat(bBlueMid), bGrey, bMax, 0.01, bTickLabels, 300, 22, 49, 'b', [80, 59], [
  {x: 190, y: 206, runs: [{t: '"Forward" new water fraction'}]},
  {x: 222, y: 225, runs: [{t: 'of precipitation '}, {t: 'P', size: 9, dy: -7, gap: 1}, {t: 'F', italic: true, gap: 0.5}, {t: 'new', size: 10, dy: 4}]}
]);
makePanel('cc', cBlue.concat(cBlueMid), cGrey, cMax, 0.02, cTickLabels, 302, 25, 48, 'c', [85, 61], [
  {x: 227, y: 208, runs: [{t: 'Flow-weighted new'}]},
  {x: 227, y: 227, runs: [{t: 'water fraction '}, {t: 'Q', size: 9, dy: -7, gap: 1}, {t: 'F', italic: true, gap: 0}, {t: '*', size: 12, dy: -3, gap: 0}, {t: 'new', size: 10, dy: 4}]}
]);
makePanel('cd', dBlue.concat(dBlueMid), dGrey, dMax, 0.02, dTickLabels, 302, 25, 48, 'd', [80, 61], [
  {x: 176, y: 213, runs: [{t: 'Precipitation-weighted "forward"'}]},
  {x: 200, y: 231, runs: [{t: 'new water fraction '}, {t: 'P', size: 9, dy: -7, gap: 1}, {t: 'F', italic: true, gap: 0}, {t: '*', size: 12, dy: -3, gap: 0}, {t: 'new', size: 10, dy: 4}]}
]);
</script>
</body></html>
